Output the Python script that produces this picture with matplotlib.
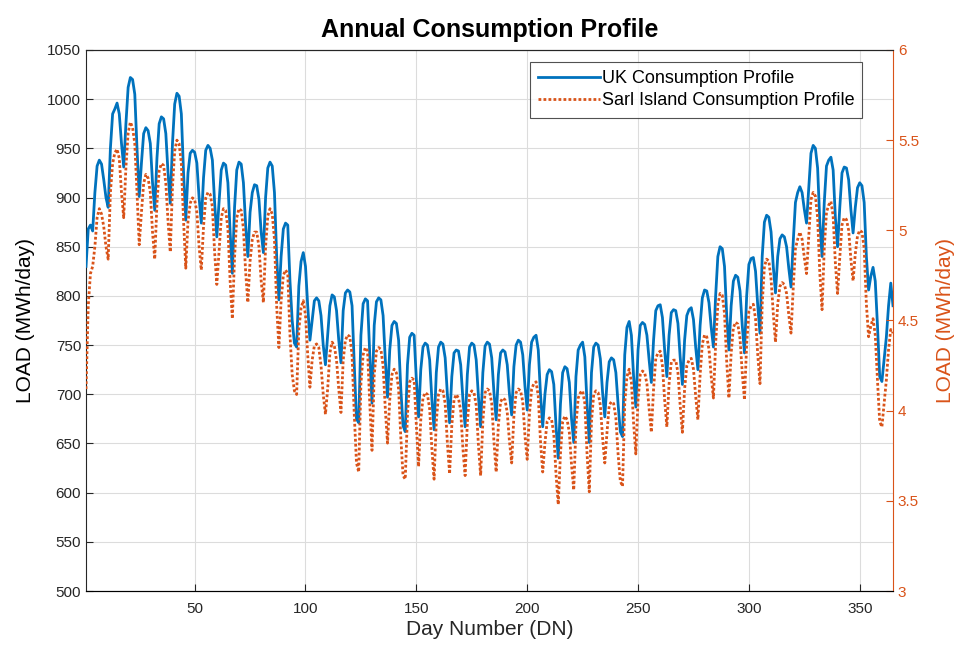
import matplotlib
matplotlib.use("Agg")
import matplotlib.pyplot as plt
import numpy as np

plt.rcParams['font.family'] = ['Liberation Sans', 'DejaVu Sans']

# UK consumption profile, MWh/day (left axis), one value per day
uk = [830, 868, 872, 866,
      905, 932, 938, 934, 918, 900, 890,
      950, 985, 990, 996, 985, 955, 931,
      975, 1012, 1022, 1020, 1005, 950, 901,
      935, 965, 971, 968, 955, 915, 887,
      940, 975, 982, 980, 965, 925, 894,
      955, 995, 1006, 1003, 985, 925, 877,
      925, 945, 948, 946, 935, 900, 874,
      920, 948, 953, 950, 938, 895, 860,
      895, 928, 935, 933, 915, 865, 823,
      890, 928, 936, 934, 915, 872, 840,
      885, 905, 913, 912, 898, 865, 844,
      900, 930, 936, 932, 905, 840, 796,
      840, 868, 874, 872, 815, 775, 752, 748,
      810, 835, 844, 830, 790, 755,
      775, 795, 798, 795, 780, 750, 730,
      760, 790, 801, 799, 785, 755, 732,
      785, 803, 806, 804, 790, 730, 675, 671,
      760, 792, 797, 795, 740, 691,
      770, 794, 798, 796, 780, 735, 697,
      745, 770, 774, 772, 755, 705, 668, 662,
      730, 758, 762, 760, 715, 677,
      725, 748, 752, 750, 735, 695, 664,
      722, 748, 753, 751, 737, 700, 671,
      718, 742, 745, 744, 730, 695, 667,
      720, 748, 752, 750, 735, 698, 667,
      722, 749, 753, 751, 737, 702, 674,
      720, 742, 745, 743, 730, 700, 679,
      728, 750, 755, 753, 740, 708, 684,
      730, 753, 758, 760, 745, 700, 667,
      700, 720, 725, 723, 710, 668, 635,
      690, 722, 728, 726, 712, 675, 651,
      718, 745, 750, 753, 738, 690, 651,
      722, 748, 752, 750, 736, 702, 677,
      712, 733, 737, 735, 722, 690, 662, 657,
      740, 768, 774, 760, 718, 687,
      745, 770, 773, 771, 760, 735, 712,
      755, 785, 790, 791, 778, 745, 718,
      760, 783, 786, 785, 772, 738, 710,
      755, 780, 786, 788, 776, 748, 725,
      770, 798, 806, 805, 793, 768, 748,
      800, 840, 850, 848, 830, 780, 745,
      790, 815, 821, 819, 805, 770, 742,
      800, 832, 838, 839, 825, 790, 762,
      840, 875, 882, 880, 865, 830, 803,
      840, 858, 862, 860, 850, 828, 809,
      855, 895, 905, 911, 905, 888, 874,
      910, 945, 953, 950, 930, 875, 840,
      895, 932, 938, 941, 928, 880, 850,
      890, 925, 931, 930, 918, 888, 864,
      890, 910, 915, 912, 895, 840, 806,
      820, 829, 815, 770, 718, 713, 735, 758, 790, 813, 790]

# Sarl Island consumption profile, MWh/day (right axis)
sarl = [4.12, 4.58, 4.76, 4.80,
        4.91, 5.07, 5.12, 5.09, 5.02, 4.91, 4.84,
        5.21, 5.37, 5.43, 5.45, 5.40, 5.21, 5.07,
        5.35, 5.54, 5.60, 5.57, 5.48, 5.21, 4.92,
        5.10, 5.26, 5.31, 5.29, 5.21, 4.99, 4.84,
        5.15, 5.33, 5.37, 5.36, 5.26, 5.05, 4.88,
        5.24, 5.44, 5.50, 5.48, 5.37, 5.05, 4.79,
        5.05, 5.15, 5.18, 5.17, 5.10, 4.91, 4.78,
        5.02, 5.18, 5.21, 5.20, 5.13, 4.88, 4.70,
        4.88, 5.07, 5.12, 5.11, 5.01, 4.72, 4.51,
        4.85, 5.07, 5.12, 5.11, 5.01, 4.77, 4.60,
        4.83, 4.95, 4.99, 4.99, 4.91, 4.72, 4.60,
        4.91, 5.08, 5.12, 5.09, 4.95, 4.58, 4.35,
        4.61, 4.75, 4.78, 4.76, 4.42, 4.20, 4.11, 4.09,
        4.45, 4.57, 4.61, 4.53, 4.31, 4.13,
        4.28, 4.36, 4.37, 4.35, 4.25, 4.09, 3.98,
        4.12, 4.32, 4.38, 4.36, 4.28, 4.12, 3.99,
        4.28, 4.39, 4.42, 4.41, 4.31, 3.98, 3.71, 3.66,
        4.15, 4.31, 4.35, 4.33, 4.04, 3.78,
        4.20, 4.33, 4.35, 4.34, 4.25, 4.01, 3.82,
        4.06, 4.20, 4.23, 4.21, 4.12, 3.85, 3.64, 3.62,
        3.98, 4.16, 4.18, 4.17, 3.92, 3.69,
        3.95, 4.07, 4.10, 4.09, 4.01, 3.79, 3.62,
        3.94, 4.09, 4.12, 4.11, 4.04, 3.82, 3.65,
        3.92, 4.06, 4.09, 4.07, 4.00, 3.79, 3.64,
        3.93, 4.09, 4.11, 4.10, 4.03, 3.81, 3.64,
        3.94, 4.10, 4.12, 4.11, 4.04, 3.83, 3.66,
        3.92, 4.05, 4.07, 4.06, 3.99, 3.83, 3.71,
        3.97, 4.10, 4.12, 4.11, 4.05, 3.86, 3.73,
        3.98, 4.12, 4.15, 4.16, 4.08, 3.83, 3.66,
        3.82, 3.94, 3.96, 3.95, 3.87, 3.65, 3.48,
        3.76, 3.94, 3.97, 3.95, 3.88, 3.70, 3.56,
        3.92, 4.07, 4.10, 4.11, 4.04, 3.76, 3.55,
        3.94, 4.09, 4.11, 4.10, 4.03, 3.85, 3.71,
        3.88, 4.03, 4.05, 4.04, 3.96, 3.76, 3.61, 3.58,
        4.04, 4.19, 4.23, 4.16, 3.93, 3.76,
        4.06, 4.20, 4.22, 4.21, 4.15, 4.01, 3.88,
        4.12, 4.29, 4.32, 4.33, 4.25, 4.06, 3.91,
        4.15, 4.27, 4.28, 4.28, 4.21, 4.03, 3.88,
        4.12, 4.25, 4.28, 4.29, 4.23, 4.08, 3.95,
        4.20, 4.37, 4.42, 4.41, 4.34, 4.19, 4.07,
        4.37, 4.59, 4.65, 4.64, 4.54, 4.27, 4.07,
        4.32, 4.46, 4.49, 4.48, 4.40, 4.21, 4.06,
        4.37, 4.55, 4.58, 4.59, 4.51, 4.31, 4.15,
        4.59, 4.80, 4.84, 4.83, 4.73, 4.54, 4.38,
        4.59, 4.69, 4.71, 4.70, 4.65, 4.53, 4.43,
        4.68, 4.90, 4.95, 4.99, 4.95, 4.85, 4.76,
        4.97, 5.17, 5.21, 5.19, 5.07, 4.76, 4.56,
        4.90, 5.10, 5.14, 5.16, 5.08, 4.82, 4.65,
        4.85, 5.03, 5.07, 5.06, 5.00, 4.84, 4.72,
        4.87, 4.97, 5.00, 4.99, 4.90, 4.59, 4.41,
        4.47, 4.51, 4.42, 4.17, 3.94, 3.91, 4.04, 4.17, 4.34, 4.45, 4.43]

x_ticks = [50, 100, 150, 200, 250, 300, 350]
left_ticks = list(range(500, 1051, 50))
right_ticks = [3, 3.5, 4, 4.5, 5, 5.5, 6]
right_labels = ['3', '3.5', '4', '4.5', '5', '5.5', '6']

BLUE = '#0072BD'
ORANGE = '#D95319'
DARK = '#262626'

days_uk = np.arange(1, len(uk) + 1)
days_sarl = np.arange(1, len(sarl) + 1)

fig = plt.figure(figsize=(9.6, 6.54), dpi=100)
ax = fig.add_axes([0.0896, 0.0963, 0.8406, 0.8273])
ax2 = ax.twinx()

l1, = ax.plot(days_uk, uk, color=BLUE, lw=2.0, label='UK Consumption Profile', zorder=3)
l2, = ax2.plot(days_sarl, sarl, color=ORANGE, lw=2.0, linestyle=(0, (1, 0.8)),
               label='Sarl Island Consumption Profile', zorder=3)

ax.set_xlim(1, 365)
ax.set_ylim(500, 1050)
ax2.set_ylim(3, 6)

ax.set_xticks(x_ticks)
ax.set_yticks(left_ticks)
ax2.set_yticks(right_ticks)
ax2.set_yticklabels(right_labels)

ax.grid(True, color='#DCDCDC', lw=0.8)
ax.set_axisbelow(True)

ax.tick_params(axis='both', direction='in', length=5, labelsize=11, colors=DARK, width=0.8)
ax.tick_params(axis='x', pad=8)
ax2.tick_params(axis='y', direction='in', length=5, labelsize=11, colors=ORANGE, width=0.8)

for s in ['left', 'bottom', 'top']:
    ax.spines[s].set_color(DARK)
    ax.spines[s].set_linewidth(0.8)
ax2.spines['right'].set_color(ORANGE)
ax2.spines['right'].set_linewidth(0.8)
ax2.spines['left'].set_visible(False)
ax2.spines['top'].set_color(DARK)
ax2.spines['top'].set_linewidth(0.8)
ax.spines['right'].set_visible(False)

ax.set_xlabel('Day Number (DN)', fontsize=15, color=DARK, labelpad=3)
ax.set_ylabel('LOAD (MWh/day)', fontsize=15, color='black', labelpad=9)
ax2.set_ylabel('LOAD (MWh/day)', fontsize=15, color=ORANGE, labelpad=12)
ax.set_title('Annual Consumption Profile', fontsize=18, fontweight='bold', pad=9)

leg = ax2.legend(handles=[l1, l2], loc='upper right', bbox_to_anchor=(0.962, 0.978),
                 fontsize=13, frameon=True, fancybox=False, handlelength=3.4,
                 handletextpad=0.1, borderpad=0.45, labelspacing=0.3, borderaxespad=0)
leg.get_frame().set_edgecolor(DARK)
leg.get_frame().set_linewidth(0.8)

fig.savefig('out.png', dpi=100)
